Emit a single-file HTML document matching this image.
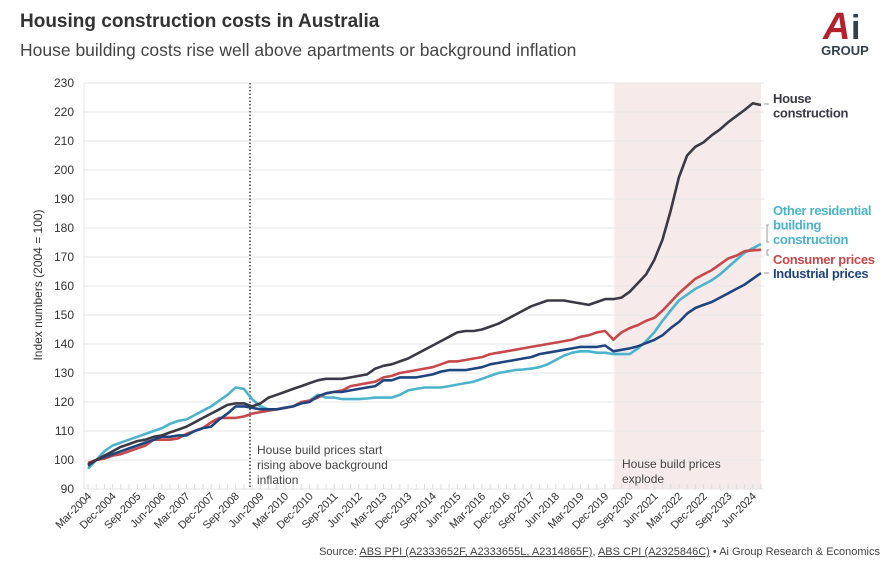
<!DOCTYPE html>
<html><head><meta charset="utf-8"><style>
body{margin:0;background:#fff;width:892px;height:564px;overflow:hidden;font-family:"Liberation Sans",sans-serif;}
svg{display:block}
</style></head><body>
<svg id="c" width="892" height="564" xmlns="http://www.w3.org/2000/svg">
<text x="20" y="27" font-size="19" font-weight="bold" fill="#333">Housing construction costs in Australia</text>
<text x="20" y="56" font-size="17.5" fill="#444">House building costs rise well above apartments or background inflation</text>
<g>
<text x="823" y="39" font-size="38" font-weight="bold" font-style="italic" fill="#b5202e">A</text>
<text x="851" y="39" font-size="34" font-weight="bold" fill="#33414e">i</text>
<text x="845" y="55" font-size="13" font-weight="bold" fill="#33414e" text-anchor="middle">GROUP</text>
</g>
<text transform="translate(42,285) rotate(-90)" font-size="12" fill="#333" text-anchor="middle">Index numbers (2004 = 100)</text>
<g id="plot"></g>
<text x="880" y="555" font-size="11" fill="#444" text-anchor="end">Source: <tspan text-decoration="underline">ABS PPI (A2333652F, A2333655L, A2314865F)</tspan>, <tspan text-decoration="underline">ABS CPI (A2325846C)</tspan> • Ai Group Research &amp; Economics</text>
</svg>
<script>
const categories=(function(){const m=["Mar","Jun","Sep","Dec"];const a=[];for(let i=0;i<83;i++){a.push(m[i%4]+"-"+(2004+Math.floor(i/4)));}return a;})();
const yTicks=[90,100,110,120,130,140,150,160,170,180,190,200,210,220,230];
const houseConstruction=[98.5,100,101.5,103,104.5,105.5,106.5,107,108,108.5,109.5,110.5,111.5,113,114.5,116,117.5,119,119.5,119.5,118.5,119.5,121.5,122.5,123.5,124.5,125.5,126.5,127.5,128,128,128,128.5,129,129.5,131.5,132.5,133,134,135,136.5,138,139.5,141,142.5,144,144.5,144.5,145,146,147,148.5,150,151.5,153,154,155,155,155,154.5,154,153.5,154.5,155.5,155.5,156,158,161,164,169,176,186,197.5,205,208,209.5,212,214,216.5,218.6,220.7,223,222.4];
const otherResidential=[97,100,103,105,106,107,108,109,110,111,112.5,113.5,114,115.5,117,118.5,120.5,122.5,125,124.5,121,118.5,117.5,117.5,118,118.5,120,120.5,122.5,121.5,121.5,121,121,121,121.2,121.5,121.5,121.5,122.5,124,124.5,125,125,125,125.5,126,126.5,127,128,129,130,130.5,131,131.2,131.5,132,133,134.5,136,137,137.5,137.5,137,137,136.5,136.5,136.5,138.5,141,144,148,151.5,155,157,159,160.5,162,164,166.5,169,171.5,173,174.5];
const consumerPrices=[99,100,100.5,101.5,102,103,104,105,107,107,107,107.5,109,110,111,113,114.5,114.5,114.5,115,116,116.5,117,117.5,118,118.5,120,120.5,121.5,123,123.5,124,125.5,126,126.5,127,128.5,129,130,130.5,131,131.5,132,133,134,134,134.5,135,135.5,136.5,137,137.5,138,138.5,139,139.5,140,140.5,141,141.5,142.5,143,144,144.5,141.5,144,145.5,146.5,148,149,151.5,154.5,157.5,160,162.5,164,165.5,167.5,169.5,170.5,172,172.3,172.5];
const industrialPrices=[98,100,101,102,103,104,105,106,107,108,108,108.5,108.5,110,111,111.5,114,116,118.5,118.5,118,117.5,117.5,117.5,118,118.5,119.5,120,122,123,123.5,123.5,124,124.5,125,125.5,127.5,127.5,128.5,128.5,128.5,129,129.5,130.5,131,131,131,131.5,132,133,133.5,134,134.5,135,135.5,136.5,137,137.5,138,138.5,139,139,139,139.5,137.5,138,138.5,139.2,140.3,141.4,143,145.5,147.6,150.5,152.4,153.5,154.5,156,157.5,159,160.5,162.5,164.5];
const NS="http://www.w3.org/2000/svg";
const X0=88,X1=761,Y0=489,K=2.9;
function xs(i){return X0+i*(X1-X0)/(categories.length-1);}
function ys(v){return Y0-(v-90)*K;}
const g=document.getElementById('plot');
function mk(t,a,p){const e=document.createElementNS(NS,t);for(const k in a)e.setAttribute(k,a[k]);(p||g).appendChild(e);return e;}
const sh=mk('rect',{x:xs(64)+1,y:ys(230),width:X1-xs(64)-1,height:ys(90)-ys(230),fill:'#f6eaea'});


yTicks.forEach(v=>{
 const l=mk('line',{x1:84,x2:764,y1:ys(v),y2:ys(v),stroke:'#e6e6e6','stroke-width':1});
 
 
 const t=mk('text',{x:74,y:ys(v)+4,'font-size':12,fill:'#333','text-anchor':'end'});
 t.textContent=v;
 
 
});
mk('line',{x1:84,x2:84,y1:ys(230),y2:ys(90),stroke:'#e6e6e6'});
categories.forEach((c,i)=>{
 mk('line',{x1:xs(i),x2:xs(i),y1:Y0-5,y2:Y0,stroke:'#ddd'});
 if(i%3===0){
  const t=mk('text',{transform:`translate(${xs(i)+4},${Y0+8}) rotate(-45)`,'font-size':11,fill:'#333','text-anchor':'end','letter-spacing':'-0.2'});
  t.textContent=c;
  
  
 }
});
const dl=mk('line',{x1:250,x2:250,y1:ys(230),y2:ys(90),stroke:'#444','stroke-width':1.5,'stroke-dasharray':'1.5,2'});


function ann(lines,x,y,name){const t=mk('text',{x:x,y:y,'font-size':12,fill:'#444'});
 
 
 lines.forEach((s,k)=>{const ts=mk('tspan',{x:x,dy:k?15:0},t);ts.textContent=s;});}
ann(["House build prices start","rising above background","inflation"],257,454,'annotation-rising');
ann(["House build prices","explode"],622,468,'annotation-explode');
const series=[[otherResidential,'#4cb3cc','line-other-residential'],[consumerPrices,'#c8474a','line-consumer-prices'],[industrialPrices,'#1f4580','line-industrial-prices'],[houseConstruction,'#3a3a46','line-house-construction']];
series.forEach(([d,c,n])=>{
 const p=mk('path',{d:d.map((v,i)=>(i?'L':'M')+xs(i).toFixed(1)+','+ys(v).toFixed(1)).join(''),fill:'none',stroke:c,'stroke-width':2.6,'stroke-linejoin':'round'});
 
 
});
function lab(lines,x,y,c,name){const t=mk('text',{x:x,y:y,'font-size':13,'font-weight':'bold',fill:c,'letter-spacing':'-0.3'});
 
 
 lines.forEach((s,k)=>{const ts=mk('tspan',{x:x,dy:k?14.5:0},t);ts.textContent=s;});}
lab(["House","construction"],773,103,'#3a3a46','label-house-construction');
lab(["Other residential","building","construction"],773,215,'#4cb3cc','label-other-residential');
lab(["Consumer prices"],773,264,'#c8474a','label-consumer-prices');
lab(["Industrial prices"],773,278,'#1f4580','label-industrial-prices');
mk('line',{x1:764,x2:769,y1:104,y2:104,stroke:'#999'});
mk('line',{x1:764,x2:769,y1:273,y2:273,stroke:'#999'});
mk('path',{d:'M769,225 L767,225 L767,242 L769,242 M769,250 L767,250 L767,255 L769,255',fill:'none',stroke:'#999'});
</script>
</body></html>
